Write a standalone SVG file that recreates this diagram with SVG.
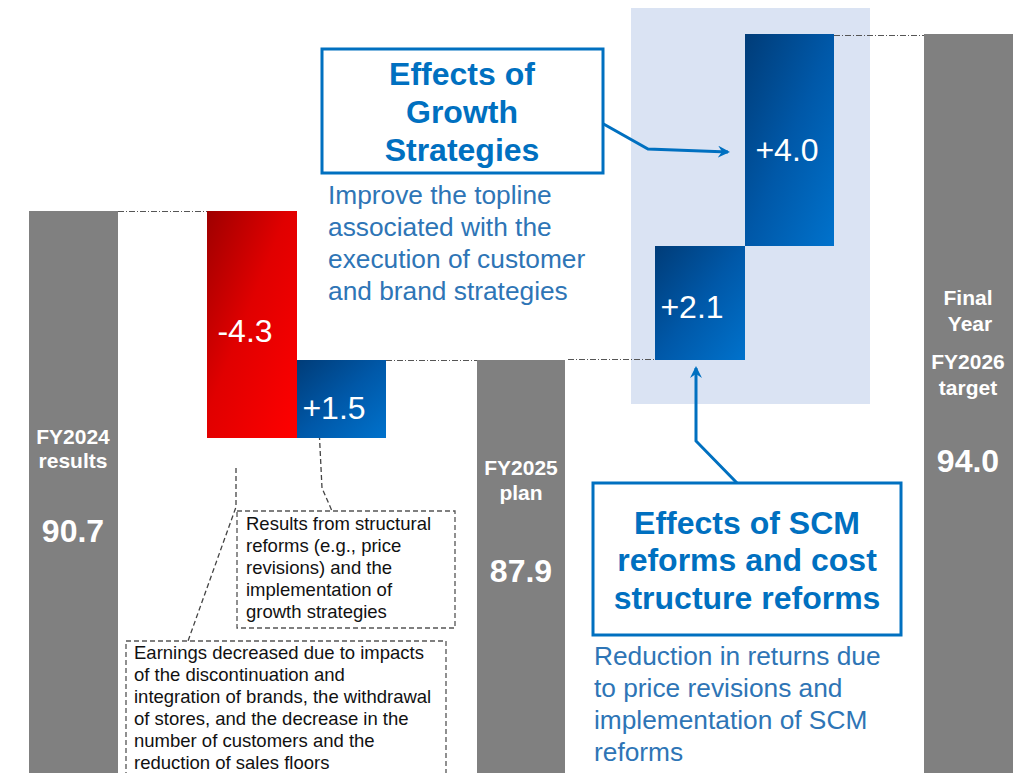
<svg xmlns="http://www.w3.org/2000/svg" width="1035" height="773" viewBox="0 0 1035 773">
<defs>
<linearGradient id="gRed" x1="0" y1="0" x2="1" y2="1"><stop offset="0" stop-color="#9E0000"/><stop offset="0.45" stop-color="#E00000"/><stop offset="1" stop-color="#FF0000"/></linearGradient>
<linearGradient id="gBlue" x1="0" y1="0" x2="1" y2="1"><stop offset="0" stop-color="#003C78"/><stop offset="0.5" stop-color="#0058A8"/><stop offset="1" stop-color="#0072CC"/></linearGradient>
<marker id="arr" viewBox="0 0 12 12" refX="10" refY="6" markerWidth="12" markerHeight="12" markerUnits="userSpaceOnUse" orient="auto"><path d="M0,0 L12,6 L0,12 L4,6 Z" fill="#0070C0"/></marker>
<style>
.gray{fill:#808080}
.wlab{font-family:"Liberation Sans",Arial,sans-serif;font-weight:bold;fill:#fff;text-anchor:middle}
.val{font-family:"Liberation Sans",Arial,sans-serif;fill:#fff;font-size:32px;text-anchor:middle}
.dd{stroke:#555;stroke-width:1;stroke-dasharray:6 2 1 2;fill:none}
.box{fill:#fff;stroke:#0070C0;stroke-width:3}
.btitle{font-family:"Liberation Sans",Arial,sans-serif;font-weight:bold;font-size:32px;fill:#0070C0;text-anchor:middle}
.bdesc{font-family:"Liberation Sans",Arial,sans-serif;font-size:26.3px;fill:#2E75B6}
.note{fill:#fff;stroke:#555;stroke-width:1.3;stroke-dasharray:5 3}
.ntext{font-family:"Liberation Sans",Arial,sans-serif;font-size:18.5px;fill:#111}
.lead{stroke:#444;stroke-width:1.3;stroke-dasharray:5 3;fill:none}
.conn{stroke:#0070C0;stroke-width:3;fill:none}
</style>
</defs>
<rect x="631" y="8" width="239" height="396" fill="#DAE3F3"/>
<g id="connectors">
<line class="dd" x1="118" y1="211.5" x2="207" y2="211.5"/>
<line class="dd" x1="386" y1="360.5" x2="477" y2="360.5"/>
<line class="dd" x1="568" y1="359.5" x2="655" y2="359.5"/>
<line class="dd" x1="834" y1="35.5" x2="930" y2="35.5"/>
<polyline class="conn" points="600,122 648,149 728,152" marker-end="url(#arr)"/>
<polyline class="conn" points="737,483 696,441 696,368" marker-end="url(#arr)"/>
<polyline class="lead" points="319,427 322,488 332,511"/>
<polyline class="lead" points="236,468 236,507 188,641"/>
</g>
<g id="fy2024">
<rect class="gray" x="29" y="211" width="89" height="562"/>
<text class="wlab" x="73" y="444" font-size="21">FY2024</text>
<text class="wlab" x="73" y="468" font-size="21">results</text>
<text class="wlab" x="73" y="542" font-size="32">90.7</text>
</g>
<g id="minus43">
<rect x="207" y="211" width="90" height="227" fill="url(#gRed)"/>
<text class="val" x="245" y="342">-4.3</text>
</g>
<g id="plus15">
<rect x="297" y="360" width="89" height="78" fill="url(#gBlue)"/>
<text class="val" x="334" y="419">+1.5</text>
</g>
<g id="fy2025">
<rect class="gray" x="477" y="360" width="88" height="413"/>
<text class="wlab" x="521" y="475" font-size="21">FY2025</text>
<text class="wlab" x="521" y="500" font-size="21">plan</text>
<text class="wlab" x="521" y="582" font-size="32">87.9</text>
</g>
<g id="plus21">
<rect x="655" y="246" width="90" height="114" fill="url(#gBlue)"/>
<text class="val" x="692" y="318">+2.1</text>
</g>
<g id="plus40">
<rect x="745" y="34" width="89" height="212" fill="url(#gBlue)"/>
<text class="val" x="787" y="161">+4.0</text>
</g>
<g id="fy2026">
<rect class="gray" x="924" y="34" width="89" height="739"/>
<text class="wlab" x="968" y="305" font-size="21">Final</text>
<text class="wlab" x="970" y="331" font-size="21">Year</text>
<text class="wlab" x="968" y="369" font-size="21">FY2026</text>
<text class="wlab" x="968" y="395" font-size="21">target</text>
<text class="wlab" x="968" y="472" font-size="32">94.0</text>
</g>
<g id="growth">
<rect class="box" x="322" y="49" width="281" height="124"/>
<text class="btitle" x="462" y="85">Effects of</text>
<text class="btitle" x="462" y="123">Growth</text>
<text class="btitle" x="462" y="161">Strategies</text>
<text class="bdesc" x="328" y="204">Improve the topline</text>
<text class="bdesc" x="328" y="236">associated with the</text>
<text class="bdesc" x="328" y="268">execution of customer</text>
<text class="bdesc" x="328" y="300">and brand strategies</text>
</g>
<g id="scm">
<rect class="box" x="593" y="483" width="308" height="152"/>
<text class="btitle" x="747" y="534">Effects of SCM</text>
<text class="btitle" x="747" y="571">reforms and cost</text>
<text class="btitle" x="747" y="609">structure reforms</text>
<text class="bdesc" x="594" y="665">Reduction in returns due</text>
<text class="bdesc" x="594" y="697">to price revisions and</text>
<text class="bdesc" x="594" y="729">implementation of SCM</text>
<text class="bdesc" x="594" y="761">reforms</text>
</g>
<g id="note1">
<rect class="note" x="237" y="511" width="218" height="117"/>
<text class="ntext" x="246" y="530">Results from structural</text>
<text class="ntext" x="246" y="552">reforms (e.g., price</text>
<text class="ntext" x="246" y="574">revisions) and the</text>
<text class="ntext" x="246" y="596">implementation of</text>
<text class="ntext" x="246" y="618">growth strategies</text>
</g>
<g id="note2">
<rect class="note" x="126" y="641" width="320" height="140"/>
<text class="ntext" x="134" y="659">Earnings decreased due to impacts</text>
<text class="ntext" x="134" y="681">of the discontinuation and</text>
<text class="ntext" x="134" y="703">integration of brands, the withdrawal</text>
<text class="ntext" x="134" y="725">of stores, and the decrease in the</text>
<text class="ntext" x="134" y="747">number of customers and the</text>
<text class="ntext" x="134" y="769">reduction of sales floors</text>
</g>
</svg>
